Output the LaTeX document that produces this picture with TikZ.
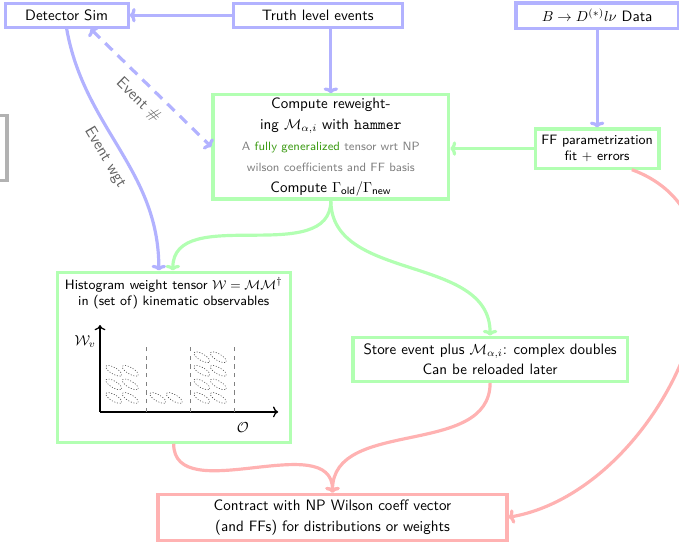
\documentclass[tikz,border=0pt]{standalone}
\usepackage{amsmath,amssymb}
\usepackage{xcolor}
\usepackage{tikz}
\usetikzlibrary{arrows.meta, calc, positioning}
\definecolor{hgreen}{RGB}{60,155,20}

\begin{document}
\begin{tikzpicture}[font=\sffamily\fontsize{10.4}{13.5}\selectfont,
  bbox/.style={draw=blue!30, line width=2.2pt, align=center, inner sep=2pt},
  gbox/.style={draw=green!30, line width=2.2pt, align=center, inner sep=2pt},
  rbox/.style={draw=red!30, line width=2.2pt, align=center, inner sep=2pt},
  barr/.style={blue!30, line width=2.2pt, -{To[length=4pt,width=10pt]}},
  garr/.style={green!30, line width=2.2pt, -{To[length=4pt,width=10pt]}},
  rarr/.style={red!30, line width=2.2pt, -{To[length=4pt,width=10pt]}},
  lbl/.style={black!62, font=\sffamily\fontsize{11.2}{13}\selectfont, sloped, below},
  blob/.style={black!75, line width=0.4pt, dash pattern=on 0.7pt off 1.2pt}]
\clip (0,0) rectangle (16.50,13.27);

% top row
\node[bbox, minimum width=2.99cm, minimum height=0.58cm] (det) at (1.62,12.90) {Detector Sim};
\node[bbox, minimum width=4.11cm, minimum height=0.58cm] (truth) at (7.72,12.90) {Truth level events};
\node[bbox, minimum width=3.94cm, minimum height=0.61cm] (data) at (14.51,12.89) {$B \to D^{(*)} l \nu$ Data};

% middle
\node[gbox, minimum width=5.73cm, minimum height=2.53cm] (comp) at (8.04,9.70)
  {Compute reweight-\\[1pt]
   ing $\mathcal{M}_{\alpha,i}$ with \texttt{hammer}\\[1pt]
   {\fontsize{8.3}{10}\selectfont\color{gray} A \textcolor{hgreen}{fully generalized} tensor wrt NP}\\[1pt]
   {\fontsize{8.3}{10}\selectfont\color{gray} wilson coefficients and FF basis}\\[1pt]
   Compute $\Gamma_{\textsf{old}}/\Gamma_{\textsf{new}}$};
\node[gbox, font=\sffamily\fontsize{9.4}{11.2}\selectfont, minimum width=3.01cm, minimum height=0.95cm] (ff) at (14.51,9.66)
  {FF parametrization\\fit $+$ errors};
\draw[gray!60, line width=2.2pt] (-1,8.89) rectangle (0.17,10.47);

% histogram
\node[gbox, minimum width=5.66cm, minimum height=4.13cm] (hist) at (4.22,4.59) {};
\node[font=\sffamily\fontsize{9.4}{11}\selectfont, align=center, below=1pt of hist.north] (htitle)
  {Histogram weight tensor $\mathcal{W} = \mathcal{M}\mathcal{M}^\dagger$\\ in (set of) kinematic observables};
\draw[line width=0.9pt, ->] (2.43,3.26) -- (2.43,5.37);
\draw[line width=0.9pt, ->] (2.43,3.26) -- (6.76,3.26);
\node (wlab) at (2.07,4.96) {$\mathcal{W}_v$};
\node (olab) at (5.90,2.87) {$\mathcal{O}$};
\foreach \x in {3.55,4.62,5.69}
  \draw[gray, thin, dashed] (\x,3.26) -- (\x,4.88);
\foreach \b/\n in {0/3,1/1,2/4}
  \foreach \k in {1,...,\n}
    \foreach \d in {-0.2,0.2}
      \draw[blob] ({2.965+1.07*\b+\d},{3.27+0.33*\k}) circle[x radius=0.22, y radius=0.08, rotate=-30];

\node[gbox, minimum width=6.66cm, minimum height=1.07cm] (store) at (11.91,4.54)
  {Store event plus $\mathcal{M}_{\alpha,i}$: complex doubles\\ Can be reloaded later};
\node[rbox, minimum width=8.48cm, minimum height=1.12cm] (contract) at (8.08,0.70)
  {Contract with NP Wilson coeff vector\\[1pt] (and FFs) for distributions or weights};

% connectors
\draw[barr] (truth) -- (det);
\draw[barr] (truth.south -| comp.north) -- (comp.north);
\draw[barr] (data) -- (ff);
\draw[garr] (ff.west) -- (ff.west -| comp.east);
\draw[barr, {To[length=4pt,width=10pt]}-{To[length=4pt,width=10pt]}, dash pattern=on 7pt off 5pt]
  ([xshift=0.58cm]det.south) -- (comp.west) node[lbl, midway, below=3pt] {Event \#};
\draw[barr] (det.south) to[out=-80, in=90] node[lbl, pos=0.5, below=2pt] {Event wgt} ([xshift=-0.36cm]hist.north);
\draw[garr] (comp.south) to[out=-90, in=90] ([xshift=-0.02cm]hist.north);
\draw[garr] (comp.south) to[out=-90, in=90] (store.north);
\draw[rarr] (hist.south) to[out=-90, in=90] (contract.north);
\draw[rarr] (store.south) to[out=-90, in=90] (contract.north);
\draw[rarr] ([xshift=-0.7cm]ff.south east) to[out=-20, in=10, looseness=1.1] (contract.east);
\end{tikzpicture}
\end{document}
